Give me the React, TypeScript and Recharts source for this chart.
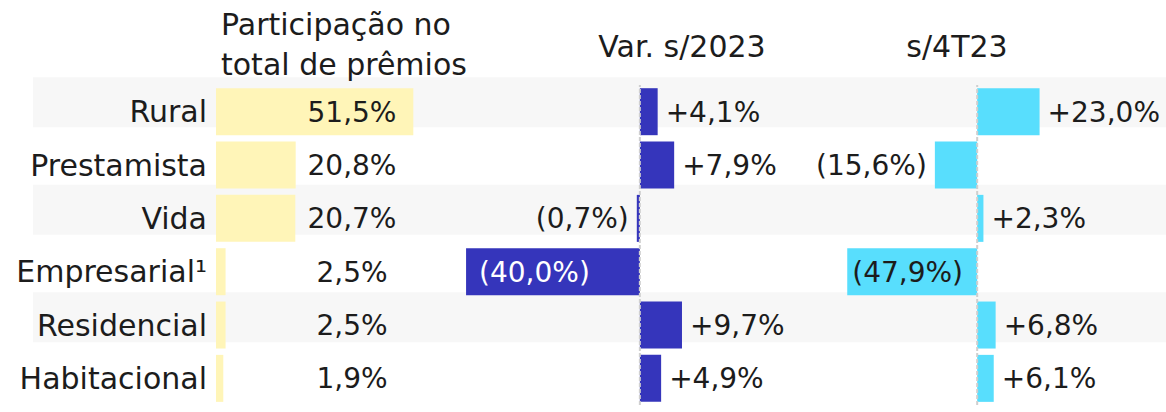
import React from 'react';
import { BarChart, Bar, XAxis, YAxis, ReferenceLine, LabelList } from 'recharts';

const categories = ['Rural', 'Prestamista', 'Vida', 'Empresarial¹', 'Residencial', 'Habitacional'];
const participacao = [51.5, 20.8, 20.7, 2.5, 2.5, 1.9];
const varAno = [4.1, 7.9, -0.7, -40.0, 9.7, 4.9];
const varTrimestre = [23.0, -15.6, 2.3, -47.9, 6.8, 6.1];

const FONT = '"DejaVu Sans", sans-serif';
const TEXT = '#1c1c1c';
const YELLOW = '#FFF5B8';
const BLUE = '#3535BB';
const CYAN = '#58DEFD';
const BAND = '#F7F7F7';

const rows = categories.map((name, i) => ({
    name,
    band: i % 2 === 0 ? 1 : 0,
    part: participacao[i],
    ano: varAno[i],
    tri: varTrimestre[i],
}));

const fmt = (v: number) => v.toFixed(1).replace('.', ',');
const fmtVar = (v: number) => (v >= 0 ? `+${fmt(v)}%` : `(${fmt(Math.abs(v))}%)`);

// width of the plot area in the first panel, labels sit at its middle
const P1_PLOT_W = 272;

const PartLabel = (props: any) => {
    const { x, y, height, value } = props;
    return (
        <text x={x + P1_PLOT_W / 2} y={y + height / 2} dy="0.35em" textAnchor="middle"
            fill={TEXT} fontSize={28} fontFamily={FONT}>
            {`${fmt(value)}%`}
        </text>
    );
};

const makeVarLabel = (insideColor: string, insideOffset: number) => (props: any) => {
    const { x, y, width, height, value } = props;
    const left = Math.min(x, x + width);
    const right = Math.max(x, x + width);
    const cy = y + height / 2;
    let tx = right + 8;
    let anchor: 'start' | 'end' = 'start';
    let color = TEXT;
    if (value < 0) {
        if (Math.abs(value) > 30) {
            tx = left + insideOffset;
            color = insideColor;
        } else {
            tx = left - 8;
            anchor = 'end';
        }
    }
    return (
        <text x={tx} y={cy} dy="0.35em" textAnchor={anchor} fill={color} fontSize={28} fontFamily={FONT}>
            {fmtVar(value)}
        </text>
    );
};

const abs = (left: number, top: number): React.CSSProperties => ({ position: 'absolute', left, top });

export default function App() {
    return (
        <div style={{ position: 'absolute', left: 0, top: 0, width: 1166, height: 412, background: '#fff', overflow: 'hidden' }}>
            {/* alternating row bands */}
            <div style={abs(0, 0)}>
                <BarChart width={1166} height={412} data={rows} layout="vertical"
                    margin={{ top: 75.6, right: 0, bottom: 14, left: 33 }} barCategoryGap={1.7}>
                    <XAxis type="number" domain={[0, 1]} hide />
                    <YAxis type="category" dataKey="name" hide />
                    <Bar dataKey="band" fill={BAND} isAnimationActive={false} />
                </BarChart>
            </div>

            {/* participação no total */}
            <div style={abs(0, 0)}>
                <BarChart width={488} height={412} data={rows} layout="vertical"
                    margin={{ top: 85, right: 0, bottom: 7, left: 0 }} barCategoryGap={3.2}>
                    <XAxis type="number" domain={[0, 71]} hide />
                    <YAxis type="category" dataKey="name" width={216} tickLine={false} axisLine={false}
                        tickSize={0} tickMargin={9} interval={0}
                        tick={{ fill: TEXT, fontSize: 30, fontFamily: FONT }} />
                    <Bar dataKey="part" fill={YELLOW} isAnimationActive={false}>
                        <LabelList dataKey="part" content={PartLabel} />
                    </Bar>
                </BarChart>
            </div>

            {/* var. s/2023 */}
            <div style={abs(440, 0)}>
                <BarChart width={391} height={412} data={rows} layout="vertical"
                    margin={{ top: 85, right: 0, bottom: 7, left: 0 }} barCategoryGap={3.2}>
                    <XAxis type="number" domain={[-46, 44]} hide />
                    <YAxis type="category" dataKey="name" hide />
                    <Bar dataKey="ano" fill={BLUE} isAnimationActive={false}>
                        <LabelList dataKey="ano" content={makeVarLabel('#ffffff', 13)} />
                    </Bar>
                    <ReferenceLine x={0} stroke="#cfcfcf" strokeWidth={2} strokeDasharray="4 2" />
                </BarChart>
            </div>

            {/* s/4T23 */}
            <div style={abs(790, 0)}>
                <BarChart width={376} height={412} data={rows} layout="vertical"
                    margin={{ top: 85, right: 0, bottom: 7, left: 0 }} barCategoryGap={3.2}>
                    <XAxis type="number" domain={[-69, 69.6]} hide />
                    <YAxis type="category" dataKey="name" hide />
                    <Bar dataKey="tri" fill={CYAN} isAnimationActive={false}>
                        <LabelList dataKey="tri" content={makeVarLabel(TEXT, 5)} />
                    </Bar>
                    <ReferenceLine x={0} stroke="#cfcfcf" strokeWidth={2} strokeDasharray="4 2" />
                </BarChart>
            </div>

            {/* headers */}
            <svg width={1166} height={100} style={abs(0, 0)}>
                <g fill={TEXT} fontFamily={FONT} fontSize={30}>
                    <text x={221} y={35}>Participação no</text>
                    <text x={221} y={75}>total de prêmios</text>
                    <text x={682} y={57} textAnchor="middle">Var. s/2023</text>
                    <text x={957} y={57} textAnchor="middle">s/4T23</text>
                </g>
            </svg>
        </div>
    );
}
